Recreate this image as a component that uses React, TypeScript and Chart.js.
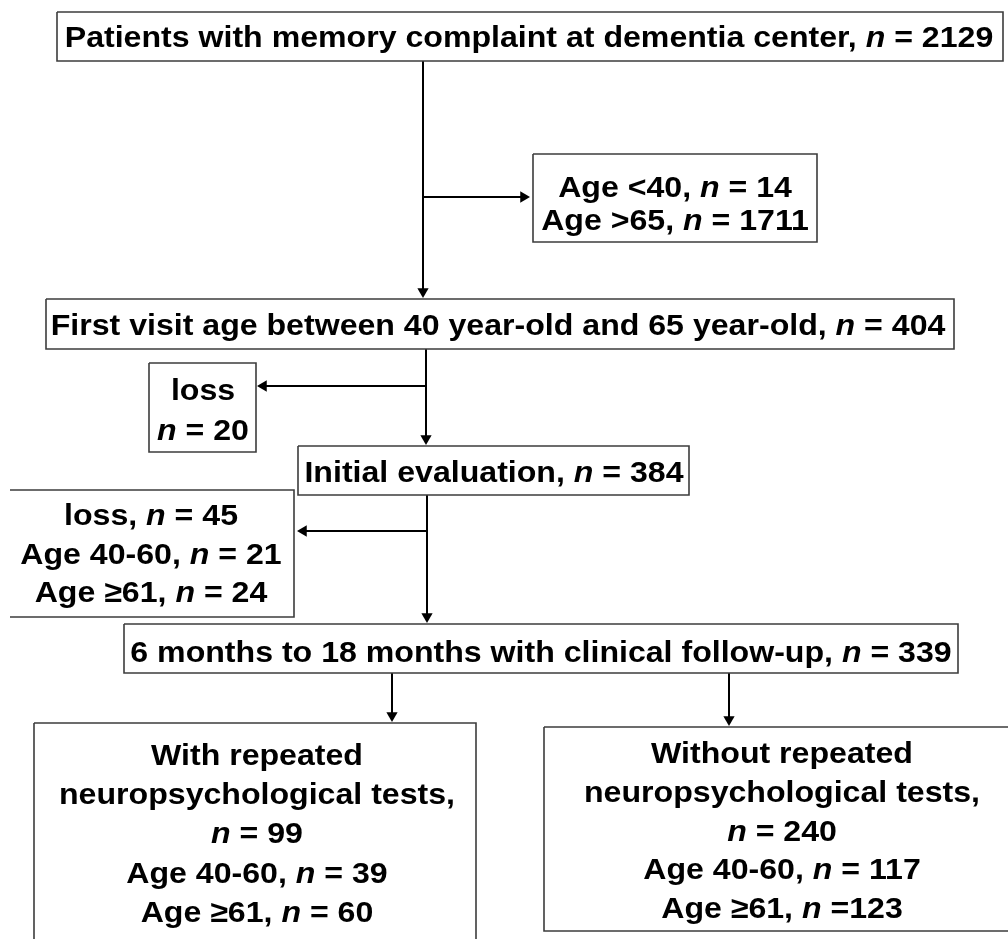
import React, { useEffect, useRef } from "react";
import { Chart, registerables } from "chart.js";

Chart.register(...registerables);

// ---- flowchart content ----
const nodeLines: string[][] = [
  ["Patients with memory complaint at dementia center, *n* = 2129"],
  ["Age <40, *n* = 14", "Age >65, *n* = 1711"],
  ["First visit age between 40 year-old and 65 year-old, *n* = 404"],
  ["loss", "*n* = 20"],
  ["Initial evaluation, *n* = 384"],
  ["loss, *n* = 45", "Age 40-60, *n* = 21", "Age \u226561, *n* = 24"],
  ["6 months to 18 months with clinical follow-up, *n* = 339"],
  ["With repeated", "neuropsychological tests,", "*n* = 99", "Age 40-60, *n* = 39", "Age \u226561, *n* = 60"],
  ["Without repeated", "neuropsychological tests,", "*n* = 240", "Age 40-60, *n* = 117", "Age \u226561, *n* =123"],
];

// box extents in chart units: [left, right, top, bottom]
const nodeBoxes: number[][] = [
  [57, 1003, 12, 61],
  [533, 817, 154, 242],
  [46, 954, 299, 349],
  [149, 256, 363, 452],
  [298, 689, 446, 495],
  [10, 294, 490, 617],
  [124, 958, 624, 673],
  [34, 476, 723, 960],
  [544, 1020, 727, 931],
];

// sides of a box that are not drawn
const nodeOpenSide: string[] = ["", "", "", "", "", "left", "", "bottom", "right"];

// text anchor: [centre x, first baseline, line gap]
const nodeText: number[][] = [
  [529, 47, 0],
  [675, 197, 33],
  [498, 335, 0],
  [203, 400, 40],
  [494, 482, 0],
  [151, 525, 38.5],
  [541, 662, 0],
  [257, 765, 39.2],
  [782, 763, 38.8],
];

// connectors: polyline points, last point is arrow tip; direction of head
const connectorX: number[][] = [
  [423, 423],
  [423, 530],
  [426, 426],
  [426, 257],
  [427, 427],
  [427, 297],
  [392, 392],
  [729, 729],
];
const connectorY: number[][] = [
  [61, 298],
  [197, 197],
  [349, 445],
  [386, 386],
  [495, 623],
  [531, 531],
  [673, 722],
  [673, 726],
];
const connectorHead: string[] = ["down", "right", "down", "left", "down", "left", "down", "down"];

const FONT_FAMILY = '"Liberation Sans", Arial, Helvetica, sans-serif';
const FONT_SIZE = 30;
const TEXT_STRETCH = 1.07;
const HEAD_R = 6.5;

function parseRuns(s: string): { text: string; italic: boolean }[] {
  const parts = s.split("*");
  return parts
    .map((p, i) => ({ text: p, italic: i % 2 === 1 }))
    .filter((r) => r.text.length > 0);
}

const flowPlugin = {
  id: "flowBoxes",
  afterDatasetsDraw(chart: any) {
    const { ctx, scales } = chart;
    const xs = scales.x;
    const ys = scales.y;
    ctx.save();
    nodeBoxes.forEach((b, i) => {
      const l = xs.getPixelForValue(b[0]);
      const r = xs.getPixelForValue(b[1]);
      const t = ys.getPixelForValue(b[2]);
      const bt = ys.getPixelForValue(b[3]);
      const open = nodeOpenSide[i];
      ctx.strokeStyle = "#3c3c3c";
      ctx.lineWidth = 1.6;
      ctx.beginPath();
      ctx.moveTo(l, t);
      ctx.lineTo(r, t);
      if (open !== "right") ctx.lineTo(r, bt);
      else ctx.moveTo(r, bt);
      if (open !== "bottom") ctx.lineTo(l, bt);
      else ctx.moveTo(l, bt);
      if (open !== "left") ctx.lineTo(l, t);
      ctx.stroke();

      const [cxv, by0, gap] = nodeText[i];
      const cx = xs.getPixelForValue(cxv);
      ctx.fillStyle = "#000";
      ctx.textBaseline = "alphabetic";
      ctx.textAlign = "left";
      nodeLines[i].forEach((line, k) => {
        const by = ys.getPixelForValue(by0 + gap * k);
        const runs = parseRuns(line);
        let total = 0;
        const widths = runs.map((rn) => {
          ctx.font = `${rn.italic ? "italic " : ""}bold ${FONT_SIZE}px ${FONT_FAMILY}`;
          const w = ctx.measureText(rn.text).width;
          total += w;
          return w;
        });
        ctx.save();
        ctx.translate(cx - (total * TEXT_STRETCH) / 2, by);
        ctx.scale(TEXT_STRETCH, 1);
        let x = 0;
        runs.forEach((rn, j) => {
          ctx.font = `${rn.italic ? "italic " : ""}bold ${FONT_SIZE}px ${FONT_FAMILY}`;
          ctx.fillText(rn.text, x, 0);
          x += widths[j];
        });
        ctx.restore();
      });
    });
    ctx.restore();
  },
};

const headRotation: Record<string, number> = { up: 0, right: 90, down: 180, left: 270 };
const headDir: Record<string, number[]> = { up: [0, -1], right: [1, 0], down: [0, 1], left: [-1, 0] };

export default function App() {
  const canvasRef = useRef<HTMLCanvasElement | null>(null);

  useEffect(() => {
    if (!canvasRef.current) return;
    const datasets = connectorX.map((xsArr, i) => {
      const ysArr = connectorY[i];
      const head = connectorHead[i];
      const d = headDir[head];
      const n = xsArr.length;
      const pts = xsArr.map((xv, k) => {
        if (k === n - 1) {
          return { x: xv - d[0] * HEAD_R, y: ysArr[k] - d[1] * HEAD_R };
        }
        return { x: xv, y: ysArr[k] };
      });
      return {
        type: "line" as const,
        data: pts,
        showLine: true,
        borderColor: "#000",
        backgroundColor: "#000",
        borderWidth: 2,
        pointStyle: "triangle",
        pointRadius: pts.map((_, k) => (k === n - 1 ? HEAD_R : 0)),
        pointRotation: pts.map((_, k) => (k === n - 1 ? headRotation[head] : 0)),
        pointBorderWidth: 0,
        pointHoverRadius: 0,
        clip: false as any,
      };
    });

    const chart = new Chart(canvasRef.current, {
      type: "scatter",
      data: { datasets: datasets as any },
      options: {
        animation: false,
        responsive: true,
        maintainAspectRatio: false,
        layout: { padding: 0, autoPadding: false },
        events: [],
        plugins: { legend: { display: false }, tooltip: { enabled: false }, title: { display: false } },
        scales: {
          x: { type: "linear", min: 0, max: 1008, display: false },
          y: { type: "linear", min: 0, max: 939, reverse: true, display: false },
        },
      },
      plugins: [flowPlugin],
    });
    return () => chart.destroy();
  }, []);

  return (
    <div style={{ position: "absolute", left: 0, top: 0, width: 1008, height: 939, background: "#fff" }}>
      <canvas ref={canvasRef} />
    </div>
  );
}
